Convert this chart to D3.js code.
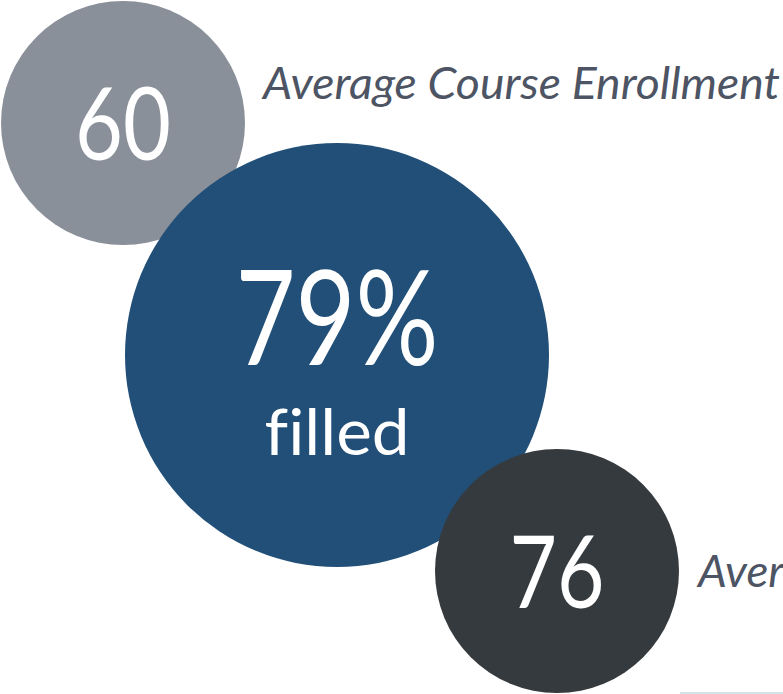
<!DOCTYPE html>
<html>
<head>
<meta charset="utf-8">
<script src="https://cdn.jsdelivr.net/npm/d3@7"></script>
<style>
    html, body { margin: 0; padding: 0; background: #fff; overflow: hidden; }
    svg { display: block; font-family: Lato, "Open Sans", sans-serif; }
    svg text { font-variant-ligatures: none; font-feature-settings: "liga" 0; }
</style>
</head>
<body>
<svg id="chart" width="783" height="694"></svg>
<script>
// bubble values and labels
const values = ["60", "79%", "76"];
const subLabels = ["", "filled", ""];
const sideLabels = ["Average Course Enrollment", "", "Aver"];
const colors = ["#8a9099", "#214f78", "#353a3e"];

const width = 783,
    height = 694;

const svg = d3.select("#chart");

// layout of the bubbles (center x, center y, radius)
const layout = [
    { cx: 123, cy: 123, r: 122, fs: 100, base: 160, tl: 96 },
    { cx: 337, cy: 355, r: 212, fs: 132, base: 365, tl: 203 },
    { cx: 557, cy: 571, r: 122, fs: 100, base: 608, tl: 95 }
];

const bubbles = values.map((v, i) => ({
    value: v,
    sub: subLabels[i],
    side: sideLabels[i],
    color: colors[i],
    ...layout[i]
}));

// faint rule at the bottom right
svg.append("line")
    .attr("x1", 680)
    .attr("x2", width)
    .attr("y1", height - 1)
    .attr("y2", height - 1)
    .attr("stroke", "#c5d9e5")
    .attr("stroke-width", 1.5);

const g = svg.selectAll("g.bubble")
    .data(bubbles)
    .enter()
    .append("g")
    .classed("bubble", true);

g.append("circle")
    .attr("cx", d => d.cx)
    .attr("cy", d => d.cy)
    .attr("r", d => d.r)
    .attr("fill", d => d.color);

g.append("text")
    .attr("x", d => d.cx)
    .attr("y", d => d.base)
    .attr("text-anchor", "middle")
    .attr("fill", "#fff")
    .attr("font-size", d => `${d.fs}px`)
    .attr("textLength", d => d.tl)
    .attr("lengthAdjust", "spacingAndGlyphs")
    .text(d => d.value);

g.filter(d => d.sub)
    .append("text")
    .attr("x", d => d.cx)
    .attr("y", 455)
    .attr("text-anchor", "middle")
    .attr("fill", "#fff")
    .attr("font-size", "64px")
    .attr("textLength", 145)
    .attr("lengthAdjust", "spacingAndGlyphs")
    .text(d => d.sub);

// side labels, drawn after all bubbles
const sidePos = [
    { x: 263, y: 99, tl: 517 },
    null,
    { x: 698, y: 587, tl: 86 }
];

svg.selectAll("text.side")
    .data(bubbles.map((d, i) => ({ text: d.side, pos: sidePos[i] })).filter(d => d.text))
    .enter()
    .append("text")
    .classed("side", true)
    .attr("x", d => d.pos.x)
    .attr("y", d => d.pos.y)
    .attr("fill", "#4d5463")
    .attr("font-size", "44px")
    .attr("font-style", "italic")
    .attr("textLength", d => d.pos.tl)
    .attr("lengthAdjust", "spacingAndGlyphs")
    .text(d => d.text);
</script>
</body>
</html>
